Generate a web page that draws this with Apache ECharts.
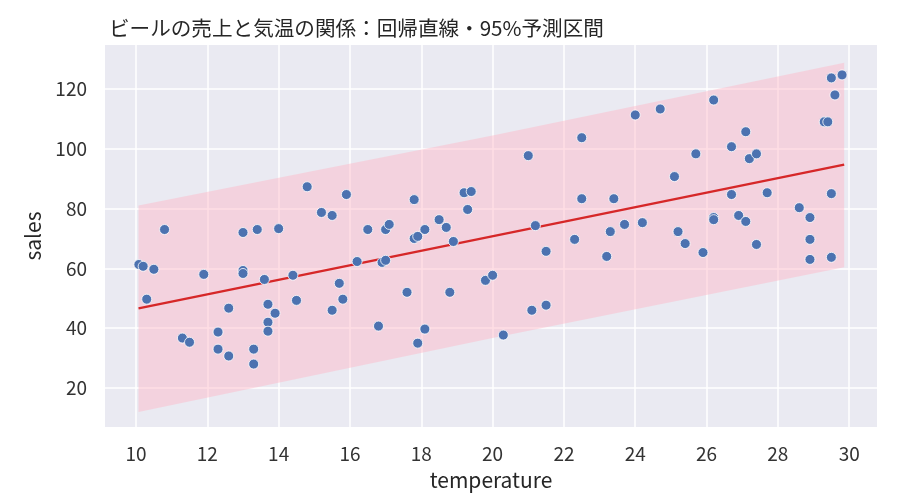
<!DOCTYPE html>
<html>
<head>
<meta charset="utf-8">
<script src="https://cdn.jsdelivr.net/npm/echarts@6/dist/echarts.min.js"></script>
<style>
  html, body { margin: 0; padding: 0; background: #ffffff; }
  #chart { width: 898px; height: 501px; }
</style>
</head>
<body>
<div id="chart"></div>
<script>
// 気温 (temperature) と売上 (sales)
const temperature = [
  10.08, 10.2, 10.3, 10.5, 10.8, 11.3, 11.5, 11.9, 12.3, 12.3,
  12.6, 12.6, 13.0, 13.0, 13.0, 13.3, 13.3, 13.4, 13.6, 13.7,
  13.7, 13.7, 13.9, 14.0, 14.4, 14.5, 14.8, 15.2, 15.5, 15.5,
  15.7, 15.8, 15.9, 16.2, 16.5, 16.8, 16.9, 17.0, 17.0, 17.1,
  17.6, 17.8, 17.8, 17.9, 17.9, 18.1, 18.1, 18.5, 18.7, 18.8,
  18.9, 19.2, 19.4, 19.3, 19.8, 20.0, 20.3, 21.0, 21.1, 21.2,
  21.5, 21.5, 22.3, 22.5, 22.5, 23.2, 23.3, 23.4, 23.7, 24.0,
  24.2, 24.7, 25.1, 25.2, 25.4, 25.7, 25.9, 26.2, 26.2, 26.2,
  26.7, 26.7, 26.9, 27.1, 27.1, 27.2, 27.4, 27.4, 27.7, 28.6,
  28.9, 28.9, 28.9, 29.3, 29.4, 29.5, 29.5, 29.5, 29.6, 29.8
];
const sales = [
  61.3, 60.7, 49.7, 59.7, 73.0, 36.7, 35.3, 58.0, 38.7, 33.0,
  46.7, 30.7, 72.0, 59.3, 58.3, 33.0, 28.0, 73.0, 56.3, 48.0,
  42.0, 39.0, 45.0, 73.3, 57.7, 49.3, 87.3, 78.7, 77.7, 46.0,
  55.0, 49.7, 84.7, 62.3, 73.0, 40.7, 62.0, 62.7, 73.0, 74.7,
  52.0, 83.0, 70.0, 70.7, 35.0, 73.0, 39.7, 76.3, 73.7, 52.0,
  69.0, 85.3, 85.7, 79.7, 56.0, 57.7, 37.7, 97.7, 46.0, 74.3,
  47.7, 65.7, 69.7, 103.7, 83.3, 64.0, 72.3, 83.3, 74.7, 111.3,
  75.3, 113.3, 90.7, 72.3, 68.3, 98.3, 65.3, 116.3, 77.0, 76.3,
  100.7, 84.7, 77.7, 105.7, 75.7, 96.7, 98.3, 68.0, 85.3, 80.3,
  77.0, 69.7, 63.0, 109.0, 109.0, 123.7, 85.0, 63.7, 118.0, 124.7
];

// 回帰直線
const lineX = [10.07, 29.86];
const lineY = [46.6, 94.7];

// 95%予測区間
const bandX = [10.07, 20.0, 29.86];
const bandLow = [12.0, 36.7, 60.4];
const bandHigh = [81.0, 104.4, 128.8];

const xTicks = [10, 12, 14, 16, 18, 20, 22, 24, 26, 28, 30];
const yTicks = [20, 40, 60, 80, 100, 120];

const FONT = '"Noto Sans CJK JP", "Noto Sans", sans-serif';
const chart = echarts.init(document.getElementById('chart'), null, { renderer: 'canvas' });

const points = temperature.map((t, i) => [t, sales[i]]);
const lineData = lineX.map((x, i) => [x, lineY[i]]);
const bandData = bandX.map((x, i) => [x, bandLow[i], bandHigh[i]]);

const option = {
  backgroundColor: '#ffffff',
  animation: false,
  title: {
    text: 'ビールの売上と気温の関係：回帰直線・95%予測区間',
    left: 104,
    top: 13,
    textStyle: { fontFamily: FONT, fontSize: 20.6, fontWeight: 'normal', color: '#262626' }
  },
  grid: {
    left: 105, right: 21, top: 45, bottom: 74,
    show: true, backgroundColor: '#eaeaf2', borderWidth: 0
  },
  xAxis: {
    type: 'value',
    min: 9.13,
    max: 30.78,
    name: 'temperature',
    nameLocation: 'middle',
    nameGap: 43,
    nameTextStyle: { fontFamily: FONT, fontSize: 21, color: '#262626' },
    axisLine: { show: false },
    axisTick: { show: false, customValues: xTicks },
    axisLabel: { customValues: xTicks, fontFamily: FONT, fontSize: 19, color: '#333333', margin: 17 },
    splitLine: { show: true, lineStyle: { color: '#ffffff', width: 1.5 } }
  },
  yAxis: {
    type: 'value',
    min: 6.96,
    max: 134.7,
    name: 'sales',
    nameLocation: 'middle',
    nameGap: 61,
    nameTextStyle: { fontFamily: FONT, fontSize: 21, color: '#262626' },
    axisLine: { show: false },
    axisTick: { show: false, customValues: yTicks },
    axisLabel: { customValues: yTicks, fontFamily: FONT, fontSize: 19, color: '#333333', margin: 18 },
    splitLine: { show: true, lineStyle: { color: '#ffffff', width: 1.5 } }
  },
  series: [
    {
      type: 'custom',
      name: 'band',
      data: bandData,
      z: 1,
      silent: true,
      renderItem: function (params, api) {
        if (params.dataIndex !== 0) return;
        const pts = [];
        for (let i = 0; i < bandX.length; i++) pts.push(api.coord([bandX[i], bandHigh[i]]));
        for (let i = bandX.length - 1; i >= 0; i--) pts.push(api.coord([bandX[i], bandLow[i]]));
        return {
          type: 'polygon',
          shape: { points: pts },
          style: { fill: 'rgba(255, 182, 198, 0.45)' }
        };
      }
    },
    {
      type: 'line',
      name: 'regression',
      data: lineData,
      showSymbol: false,
      z: 2,
      lineStyle: { color: '#d62728', width: 2.3 }
    },
    {
      type: 'scatter',
      name: 'data',
      data: points,
      symbolSize: 10,
      z: 3,
      itemStyle: { color: '#4c72b0', borderColor: '#ffffff', borderWidth: 0.8, opacity: 1 }
    }
  ]
};

chart.setOption(option);
</script>
</body>
</html>
